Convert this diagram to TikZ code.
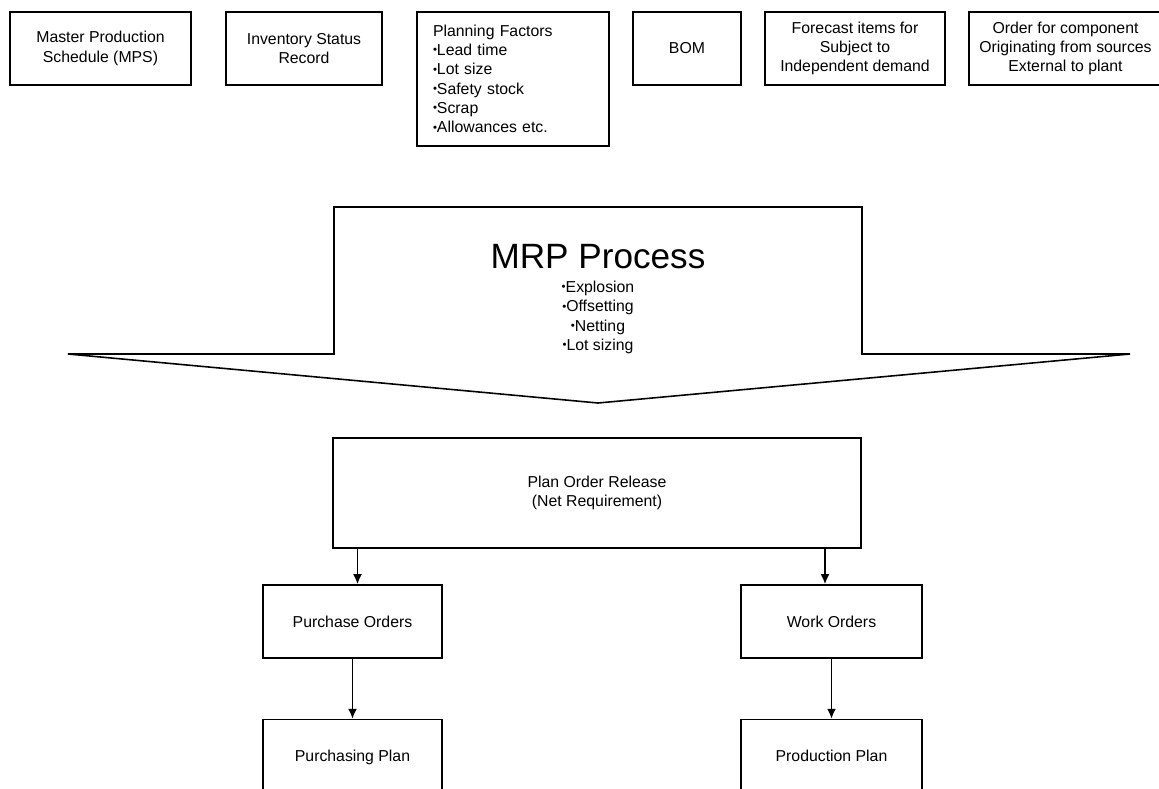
\documentclass[tikz,border=0pt]{standalone}
\usepackage{fontspec}
\setmainfont{Liberation Sans}
\usepackage{xcolor}
\usepackage{graphicx}
\usepackage{tikz}
\usetikzlibrary{shapes,arrows,arrows.meta,positioning}

\newcommand{\bul}{\raisebox{0.22ex}{\scalebox{0.72}{\textbullet}}}

\tikzset{
    stdbox/.style={
        draw,
        rectangle,
        line width=0.9pt,
        align=center,
        inner sep=0pt,
        font=\fontsize{9}{11}\selectfont
    },
    topbox/.style={stdbox, minimum height=1.46cm},
    planbox/.style={stdbox, minimum height=1.52cm, text height=0.72em, text depth=0.22em},
    flow/.style={-{Latex[length=2mm,width=1.8mm]}, line width=1pt}
}

\begin{document}
\begin{tikzpicture}
                \useasboundingbox (0,0) rectangle (23.18,-15.76);
                \clip (0,0) rectangle (23.18,-15.76);

                \node[topbox, minimum width=3.62cm] (mps) at (2.01,-0.97) {Master Production\\Schedule (MPS)};
                \node[topbox, minimum width=3.12cm] (inv) at (6.08,-0.97) {Inventory Status\\Record};
                \node[
                    stdbox,
                    align=left,
                    text width=3.2cm,
                    inner xsep=0.32cm,
                    minimum height=2.68cm
                ] (pf) at (10.26,-1.58) {Planning Factors\\\bul Lead time\\\bul Lot size\\\bul Safety stock\\\bul Scrap\\\bul Allowances etc.};
                \node[topbox, minimum width=2.16cm] (bom) at (13.74,-0.97) {BOM};
                \node[topbox, minimum width=3.6cm] (fc) at (17.1,-0.97) {Forecast items for\\Subject to\\Independent demand};
                \node[topbox, minimum width=3.86cm] (ext) at (21.31,-0.97) {Order for component\\Originating from sources\\External to plant};

                \draw[
                    line width=0.9pt
                ] (1.36,-7.08) -- (6.68,-7.08) -- (6.68,-4.14) -- (17.24,-4.14)
                  -- (17.24,-7.08) -- (22.6,-7.08) -- (11.96,-8.06) -- cycle;
                \node[font=\fontsize{20}{24}\selectfont] (mrp) at (11.96,-5.14) {MRP Process};
                \node[align=center, font=\fontsize{9}{11}\selectfont] (steps) at (11.96,-6.35) {\bul Explosion\\\bul Offsetting\\\bul Netting\\\bul Lot sizing};

                \node[stdbox, minimum width=10.56cm, minimum height=2.2cm] (por) at (11.94,-9.86) {Plan Order Release\\(Net Requirement)};

                \node[topbox, minimum width=3.58cm] (pur) at (7.05,-12.43) {Purchase Orders};
                \node[planbox, minimum width=3.58cm, below=1.2cm of pur] (purplan) {Purchasing Plan};
                \node[topbox, minimum width=3.62cm] (wo) at (16.63,-12.43) {Work Orders};
                \node[planbox, minimum width=3.62cm, below=1.2cm of wo] (prodplan) {Production Plan};

                \draw[flow] ([xshift=0.1cm]pur.north |- por.south) -- ([xshift=0.1cm]pur.north);
                \draw[flow] ([xshift=-0.13cm]wo.north |- por.south) -- ([xshift=-0.13cm]wo.north);
                \draw[flow] (pur) -- (purplan);
                \draw[flow] (wo) -- (prodplan);
\end{tikzpicture}
\end{document}
